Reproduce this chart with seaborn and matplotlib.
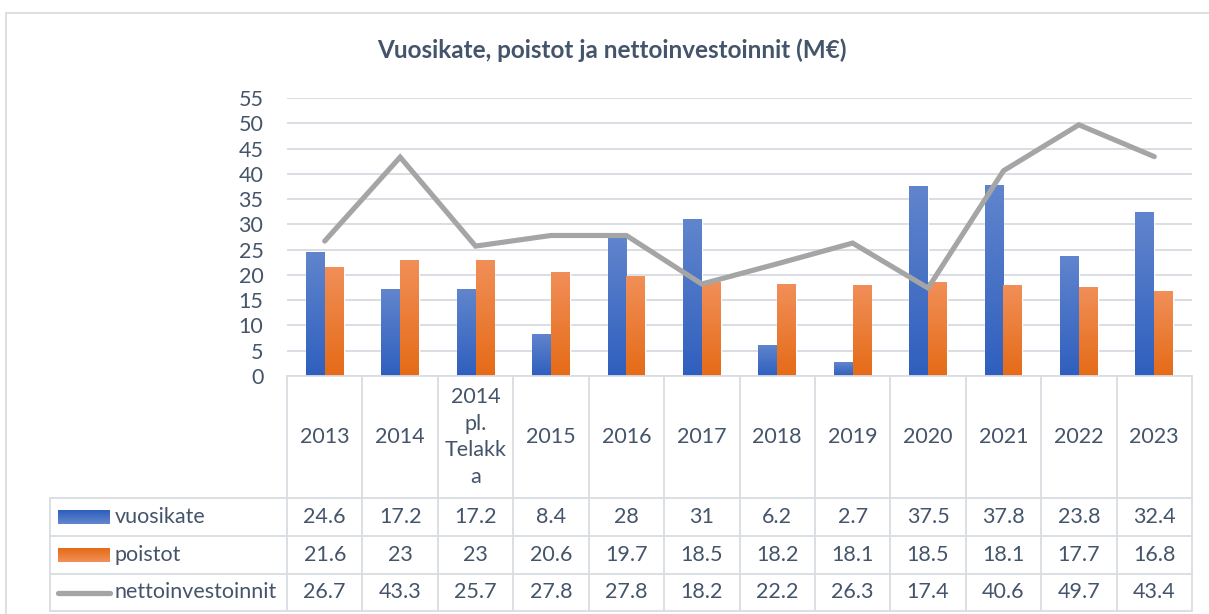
import numpy as np
import pandas as pd
import matplotlib
matplotlib.use("Agg")
import matplotlib.pyplot as plt
from matplotlib.colors import LinearSegmentedColormap
import seaborn as sns

# Data
years = ["2013", "2014", "2014 pl. Telakka", "2015", "2016", "2017",
         "2018", "2019", "2020", "2021", "2022", "2023"]
year_labels = ["2013", "2014", "2014\npl.\nTelakk\na", "2015", "2016", "2017",
               "2018", "2019", "2020", "2021", "2022", "2023"]
vuosikate = [24.6, 17.2, 17.2, 8.4, 28, 31, 6.2, 2.7, 37.5, 37.8, 23.8, 32.4]
poistot = [21.6, 23, 23, 20.6, 19.7, 18.5, 18.2, 18.1, 18.5, 18.1, 17.7, 16.8]
netto = [26.7, 43.3, 25.7, 27.8, 27.8, 18.2, 22.2, 26.3, 17.4, 40.6, 49.7, 43.4]
series = ["vuosikate", "poistot", "nettoinvestoinnit"]

text_col = "#44546A"
grid_col = "#D9DDE3"
blue = "#4472C4"
orange = "#ED7D31"
gray = "#A5A5A5"
# gradient colours (top, bottom)
grads = [("#6185CD", "#2F5FBE"), ("#F18F58", "#E56B17")]

sns.set_theme(style="white")
plt.rcParams["font.family"] = ["Lato", "DejaVu Sans"]

W, H = 1209, 614
fig = plt.figure(figsize=(W / 100, H / 100), dpi=100)

# plot area in pixels
x0, x1, ytop, ybot = 287, 1192, 98, 376
ax = fig.add_axes([x0 / W, 1 - ybot / H, (x1 - x0) / W, (ybot - ytop) / H])

df = pd.DataFrame({
    "year": years * 2,
    "series": ["vuosikate"] * len(years) + ["poistot"] * len(years),
    "value": vuosikate + poistot,
})
sns.barplot(data=df, x="year", y="value", hue="series",
            palette=[blue, orange], width=0.5, saturation=1,
            legend=False, ax=ax, zorder=2)

# gradient fill on bars
for cont, (ctop, cbot) in zip(ax.containers, grads):
    cmap = LinearSegmentedColormap.from_list("g", [cbot, ctop])
    for p in cont.patches:
        bx, by = p.get_x(), p.get_y()
        bw, bh = p.get_width(), p.get_height()
        im = ax.imshow(np.linspace(0, 1, 64).reshape(-1, 1), cmap=cmap,
                       origin="lower", aspect="auto",
                       extent=[bx, bx + bw, by, by + bh], zorder=2.5)
        im.set_clip_path(p)

sns.lineplot(x=np.arange(len(years)), y=netto, color=gray, lw=3.7,
             solid_capstyle="round", solid_joinstyle="miter", ax=ax, zorder=4)

ax.set_xlim(-0.5, len(years) - 0.5)
ax.set_ylim(0, 55)
ax.set_yticks(np.arange(0, 56, 5))
ax.yaxis.grid(True, color=grid_col, lw=1.4)
ax.set_axisbelow(True)
ax.set_xticks([])
ax.set_xlabel("")
ax.set_ylabel("")
ax.tick_params(axis="y", length=0, pad=17, labelsize=15.5, labelcolor=text_col)
for s in ax.spines.values():
    s.set_visible(False)

# overlay in pixel coordinates for table and frame
ov = fig.add_axes([0, 0, 1, 1])
ov.set_xlim(0, W)
ov.set_ylim(H, 0)
ov.axis("off")
ov.patch.set_visible(False)

# outer chart frame
ov.plot([6, W], [13, 13], color="#D9D9D9", lw=1.2)
ov.plot([6, 6], [13, H], color="#D9D9D9", lw=1.2)

ov.text(612, 50, "Vuosikate, poistot ja nettoinvestoinnit (M\u20ac)",
        ha="center", va="center", fontsize=17.5, fontweight="bold", color=text_col)

# table geometry
bounds = [ax.transData.transform((i - 0.5, 0))[0] for i in range(len(years) + 1)]
centers = [(a + b) / 2 for a, b in zip(bounds[:-1], bounds[1:])]
tleft = 50
rows = [376, 498, 536, 574, 611]
lw_t = 1.3

ov.plot([x0, x1], [rows[0], rows[0]], color=grid_col, lw=lw_t)
for r in rows[1:]:
    ov.plot([tleft, x1], [r, r], color=grid_col, lw=lw_t)
for b in bounds:
    ov.plot([b, b], [rows[0], rows[-1]], color=grid_col, lw=lw_t)
ov.plot([tleft, tleft], [rows[1], rows[-1]], color=grid_col, lw=lw_t)

for c, lab in zip(centers, year_labels):
    ov.text(c, (rows[0] + rows[1]) / 2, lab, ha="center", va="center",
            fontsize=15.5, color=text_col, linespacing=1.4)

for k, vals in enumerate([vuosikate, poistot, netto]):
    yc = (rows[k + 1] + rows[k + 2]) / 2
    for c, v in zip(centers, vals):
        ov.text(c, yc, f"{v:g}", ha="center", va="center",
                fontsize=15.5, color=text_col)
    ov.text(115, yc, series[k], ha="left", va="center",
            fontsize=15.5, color=text_col)

# legend keys
for k, (ctop, cbot) in enumerate(grads):
    yc = (rows[k + 1] + rows[k + 2]) / 2
    cmap = LinearSegmentedColormap.from_list("g", [cbot, ctop])
    ov.imshow(np.linspace(0, 1, 16).reshape(-1, 1), cmap=cmap, origin="upper",
              aspect="auto", extent=[58, 110, yc + 7, yc - 7])
yc = (rows[3] + rows[4]) / 2
ov.plot([58, 110], [yc, yc], color=gray, lw=3.8, solid_capstyle="round")
ov.set_xlim(0, W)
ov.set_ylim(H, 0)

fig.savefig("out.png", dpi=100)
